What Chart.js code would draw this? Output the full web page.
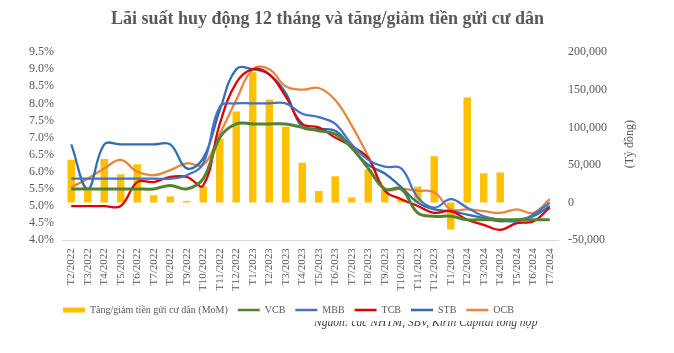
<!DOCTYPE html>
<html>
<head>
<meta charset="utf-8">
<script src="https://cdn.jsdelivr.net/npm/chart.js@4.4.1/dist/chart.umd.min.js"></script>
<style>
  body { margin: 0; background: #fff; }
  #wrap { position: relative; width: 674px; height: 353px; }
  #source { position: absolute; left: 314px; top: 321px; width: 300px; height: 14px; overflow: hidden; }
  #source span { position: relative; top: -5px; display: block; white-space: nowrap;
    font: italic 11.5px "Liberation Serif", serif; line-height: 13px; color: #404040; }
</style>
</head>
<body>
<div id="wrap">
  <canvas id="chart" width="674" height="353"></canvas>
  <div id="source"><span>Nguồn: các NHTM, SBV, Kirin Capital tổng hợp</span></div>
</div>
<script>
const months = [
  "T2/2022", "T3/2022", "T4/2022", "T5/2022", "T6/2022", "T7/2022", "T8/2022", "T9/2022",
  "T10/2022", "T11/2022", "T12/2022",
  "T1/2023", "T2/2023", "T3/2023", "T4/2023", "T5/2023", "T6/2023", "T7/2023", "T8/2023",
  "T9/2023", "T10/2023", "T11/2023", "T12/2023",
  "T1/2024", "T2/2024", "T3/2024", "T4/2024", "T5/2024", "T6/2024", "T7/2024"
];

// tăng/giảm tiền gửi cư dân (tỷ đồng)
const deposits = [
  57000, 16500, 58000, 37600, 51000, 9800, 8000, 2000, 21500, 85000, 121000,
  174000, 137000, 100700, 52800, 15500, 35000, 6700, 44000, 17900, 4000, 21500, 61700,
  -35800, 139600, 39000, 40000, null, null, null
];

// lãi suất 12 tháng (%)
const vcb = [
  5.5, 5.5, 5.5, 5.5, 5.5, 5.5, 5.6, 5.5, 5.8, 7.0, 7.4,
  7.4, 7.4, 7.4, 7.3, 7.2, 7.1, 6.7, 6.1, 5.5, 5.5, 4.8, 4.7,
  4.7, 4.6, 4.6, 4.6, 4.6, 4.6, 4.6
];
const mbb = [
  5.8, 5.8, 5.8, 5.8, 5.8, 5.8, 5.8, 5.9, 6.25, 7.9, 8.0,
  8.0, 8.0, 8.0, 7.7, 7.6, 7.4, 6.8, 6.35, 6.15, 6.1, 5.25, 4.95,
  5.2, 4.95, 4.7, 4.6, 4.55, 4.75, 5.1
];
const tcb = [
  5.0, 5.0, 5.0, 5.0, 5.7, 5.7, 5.85, 5.85, 5.6, 7.4, 8.6,
  9.0, 8.85, 8.2, 7.4, 7.3, 7.0, 6.75, 6.4, 5.45, 5.2, 5.0, 4.8,
  4.85, 4.6, 4.45, 4.3, 4.5, 4.55, 4.95
];
const stb = [
  6.8, 5.5, 6.8, 6.8, 6.8, 6.8, 6.8, 6.1, 6.4, 7.8, 9.0,
  9.0, 8.85, 8.3, 7.3, 7.25, 7.2, 6.7, 6.2, 5.95, 5.55, 5.1, 4.9,
  4.85, 4.75, 4.65, 4.55, 4.6, 4.7, 5.0
];
const ocb = [
  5.55, 5.8, 6.1, 6.35, 6.0, 5.9, 6.05, 6.25, 6.2, 7.1, 8.1,
  9.0, 9.0, 8.5, 8.4, 8.45, 8.1, 7.35, 6.45, 5.5, 5.5, 5.45, 5.4,
  4.9, 4.9, 4.85, 4.8, 4.9, 4.8, 5.2
];

const leftTicks = { min: 4, max: 9.5, step: 0.5 };
const rightTicks = { min: -50000, max: 200000, step: 50000 };

Chart.defaults.font.family = "'Liberation Serif', 'Times New Roman', serif";
Chart.defaults.color = "#595959";

function lineSet(label, data, color, width) {
  return {
    type: "line",
    label: label,
    data: data,
    borderColor: color,
    backgroundColor: color,
    borderWidth: width,
    pointRadius: 0,
    tension: 0.4,
    yAxisID: "y",
    order: 0,
  };
}

// chỉnh vị trí tiêu đề, chú thích và vẽ tên trục phải
const tweaks = {
  id: "tweaks",
  afterLayout(chart) {
    chart.titleBlock.left = 0;
    chart.titleBlock.right = 655;
    const lg = chart.legend;
    lg.left = 53;
    const h = lg.bottom - lg.top;
    lg.top = 295;
    lg.bottom = lg.top + h;
  },
  afterDraw(chart) {
    const ctx = chart.ctx;
    const s = chart.scales.y1;
    ctx.save();
    ctx.translate(s.right + 13, (chart.chartArea.top + chart.chartArea.bottom) / 2 - 2);
    ctx.rotate(-Math.PI / 2);
    ctx.font = "12px 'Liberation Serif', serif";
    ctx.fillStyle = "#595959";
    ctx.textAlign = "center";
    ctx.textBaseline = "middle";
    ctx.fillText("(Tỷ đồng)", 0, 0);
    ctx.restore();
  },
};

new Chart(document.getElementById("chart"), {
  type: "bar",
  data: {
    labels: months,
    datasets: [
      {
        type: "bar",
        label: "Tăng/giảm tiền gửi cư dân (MoM)",
        data: deposits,
        backgroundColor: "#FFC000",
        borderColor: "#FFC000",
        barPercentage: 0.45,
        categoryPercentage: 1.0,
        yAxisID: "y1",
        order: 1,
      },
      lineSet("VCB", vcb, "#548235", 3),
      lineSet("MBB", mbb, "#4472C4", 2.25),
      lineSet("TCB", tcb, "#E00000", 2.25),
      lineSet("STB", stb, "#2E6DB4", 2.25),
      lineSet("OCB", ocb, "#E8853F", 2.25),
    ],
  },
  options: {
    responsive: false,
    animation: false,
    devicePixelRatio: 1,
    layout: { padding: { left: 20, right: 57, top: 0, bottom: 24 } },
    plugins: {
      title: {
        display: true,
        text: "Lãi suất huy động 12 tháng và tăng/giảm tiền gửi cư dân",
        font: { size: 18, weight: "bold" },
        color: "#595959",
        padding: { top: 9, bottom: 21.5 },
      },
      legend: {
        position: "bottom",
        align: "start",
        labels: {
          usePointStyle: true,
          pointStyleWidth: 22,
          boxWidth: 22,
          boxHeight: 5,
          padding: 10,
          font: { size: 10 },
          color: "#595959",
          sort: (a, b) => a.datasetIndex - b.datasetIndex,
          generateLabels: (chart) =>
            Chart.defaults.plugins.legend.labels.generateLabels(chart).map((item) => {
              const ds = chart.data.datasets[item.datasetIndex];
              item.pointStyle = ds.type === "bar" ? "rect" : "line";
              item.fillStyle = ds.backgroundColor;
              item.strokeStyle = ds.borderColor;
              item.lineWidth = ds.type === "bar" ? 0 : 2.5;
              return item;
            }),
        },
      },
      tooltip: { enabled: false },
    },
    scales: {
      x: {
        grid: { display: false, drawTicks: false },
        border: { display: true, color: "#D9D9D9", width: 1 },
        ticks: {
          autoSkip: false,
          minRotation: 90,
          maxRotation: 90,
          padding: 8,
          font: { size: 11 },
        },
      },
      y: {
        position: "left",
        min: leftTicks.min,
        max: leftTicks.max,
        grid: { display: false, drawTicks: false },
        border: { display: false },
        ticks: {
          stepSize: leftTicks.step,
          autoSkip: false,
          padding: 9,
          font: { size: 12 },
          callback: (v) => v.toFixed(1) + "%",
        },
      },
      y1: {
        position: "right",
        min: rightTicks.min,
        max: rightTicks.max,
        grid: { display: false, drawTicks: false },
        border: { display: false },
        ticks: {
          stepSize: rightTicks.step,
          autoSkip: false,
          padding: 10,
          font: { size: 12 },
          callback: (v) => v.toLocaleString("en-US"),
        },
      },
    },
  },
  plugins: [tweaks],
});
</script>
</body>
</html>
